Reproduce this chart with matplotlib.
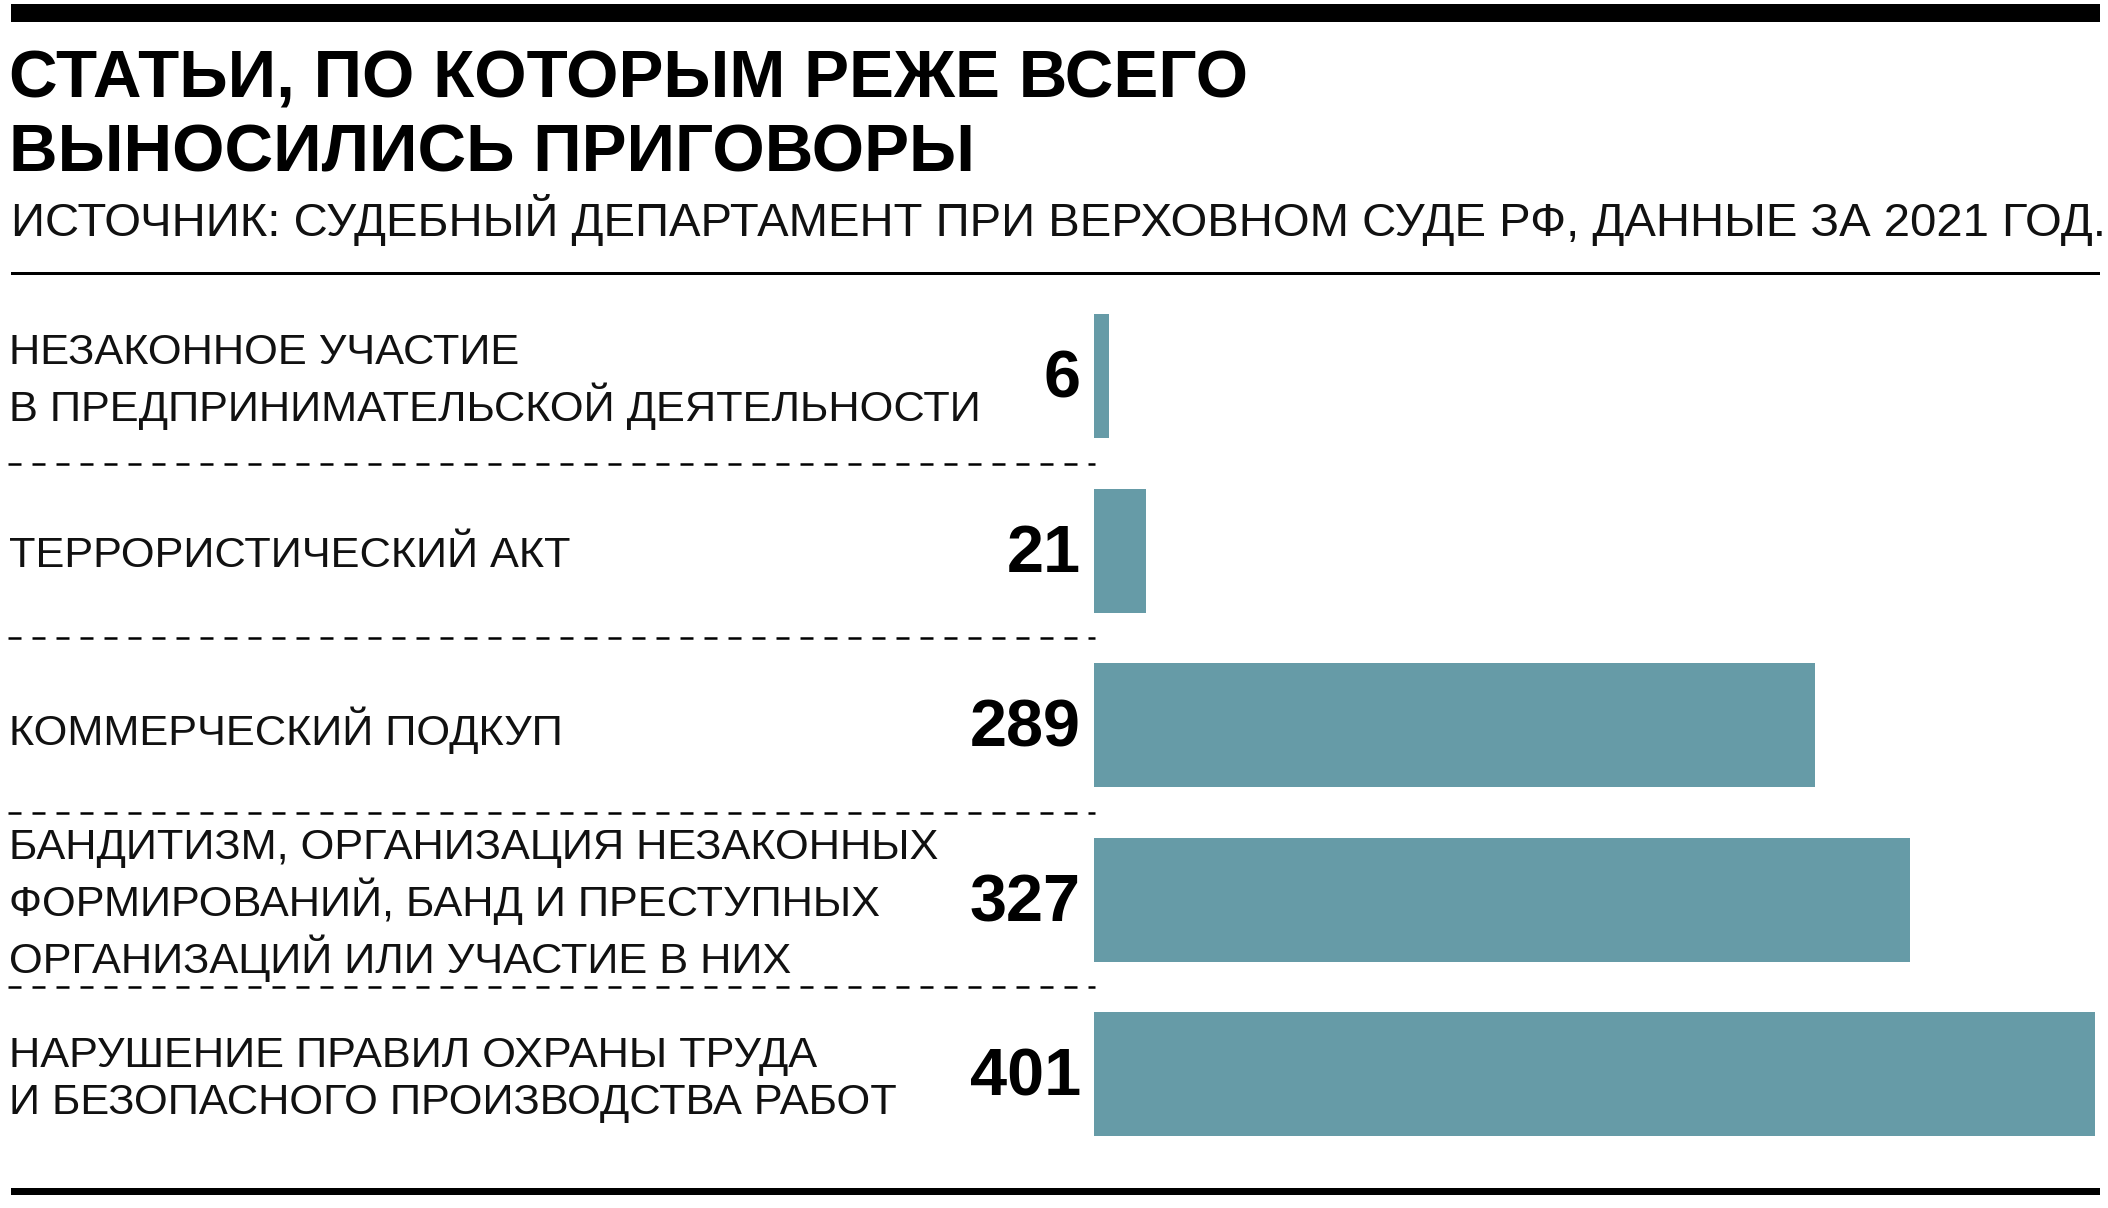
import matplotlib
matplotlib.use("Agg")
import matplotlib.pyplot as plt
from matplotlib.patches import Rectangle
from matplotlib.transforms import blended_transform_factory

plt.rcParams['font.family'] = ['Liberation Sans', 'DejaVu Sans']

title_lines = ["СТАТЬИ, ПО КОТОРЫМ РЕЖЕ ВСЕГО", "ВЫНОСИЛИСЬ ПРИГОВОРЫ"]
subtitle = "ИСТОЧНИК: СУДЕБНЫЙ ДЕПАРТАМЕНТ ПРИ ВЕРХОВНОМ СУДЕ РФ, ДАННЫЕ ЗА 2021 ГОД."
categories = [
    "НЕЗАКОННОЕ УЧАСТИЕ\nВ ПРЕДПРИНИМАТЕЛЬСКОЙ ДЕЯТЕЛЬНОСТИ",
    "ТЕРРОРИСТИЧЕСКИЙ АКТ",
    "КОММЕРЧЕСКИЙ ПОДКУП",
    "БАНДИТИЗМ, ОРГАНИЗАЦИЯ НЕЗАКОННЫХ\nФОРМИРОВАНИЙ, БАНД И ПРЕСТУПНЫХ\nОРГАНИЗАЦИЙ ИЛИ УЧАСТИЕ В НИХ",
    "НАРУШЕНИЕ ПРАВИЛ ОХРАНЫ ТРУДА\nИ БЕЗОПАСНОГО ПРОИЗВОДСТВА РАБОТ",
]
values = [6, 21, 289, 327, 401]

W, H = 2108, 1208
BAR_COLOR = "#669ba7"
TEXT = "#111111"

def fx(px):
    return px / W

def fy(px):
    return 1 - px / H

fig = plt.figure(figsize=(W / 100, H / 100), dpi=100)
fig.patch.set_facecolor("white")

# top thick rule
fig.add_artist(Rectangle((fx(11), fy(22)), fx(2100) - fx(11), (22 - 4) / H,
                         transform=fig.transFigure, color="black", lw=0))
# thin rule under subtitle
fig.add_artist(Rectangle((fx(11), fy(275)), fx(2100) - fx(11), 3 / H,
                         transform=fig.transFigure, color="black", lw=0))
# bottom rule
fig.add_artist(Rectangle((fx(11), fy(1195)), fx(2100) - fx(11), 7 / H,
                         transform=fig.transFigure, color="black", lw=0))

fig.text(fx(9), fy(97), title_lines[0], fontsize=48.5, fontweight="bold",
         color="black", va="baseline", ha="left")
fig.text(fx(9), fy(171), title_lines[1], fontsize=48.5, fontweight="bold",
         color="black", va="baseline", ha="left")
fig.text(fx(11), fy(236), subtitle, fontsize=34, color=TEXT,
         va="baseline", ha="left")

top_px, pitch = 289, 174.5
bottom_px = top_px + pitch * len(values)
ax = fig.add_axes([fx(1094), fy(bottom_px), fx(2095) - fx(1094), (bottom_px - top_px) / H])
ypos = list(range(len(values)))
ax.barh(ypos, values, height=0.71, color=BAR_COLOR, lw=0)
ax.set_xlim(0, 401)
ax.set_ylim(len(values) - 0.5, -0.5)
ax.axis("off")

tr = blended_transform_factory(fig.transFigure, ax.transData)
for i, (lab, v) in enumerate(zip(categories, values)):
    ax.text(fx(9), i + 0.03, lab, transform=tr, ha="left", va="center",
            fontsize=31.2, color=TEXT, linespacing=1.25)
    ax.text(fx(1081), i + 0.025, str(v), transform=tr, ha="right", va="center",
            fontsize=48, fontweight="bold", color="black")

for i in range(len(values) - 1):
    ax.plot([fx(8), fx(1095)], [i + 0.5, i + 0.5], transform=tr, color="black",
            lw=1.8, linestyle=(0, (5.2, 4.4)), solid_capstyle="butt",
            dash_capstyle="butt", clip_on=False)

fig.savefig("out.png", dpi=100)
